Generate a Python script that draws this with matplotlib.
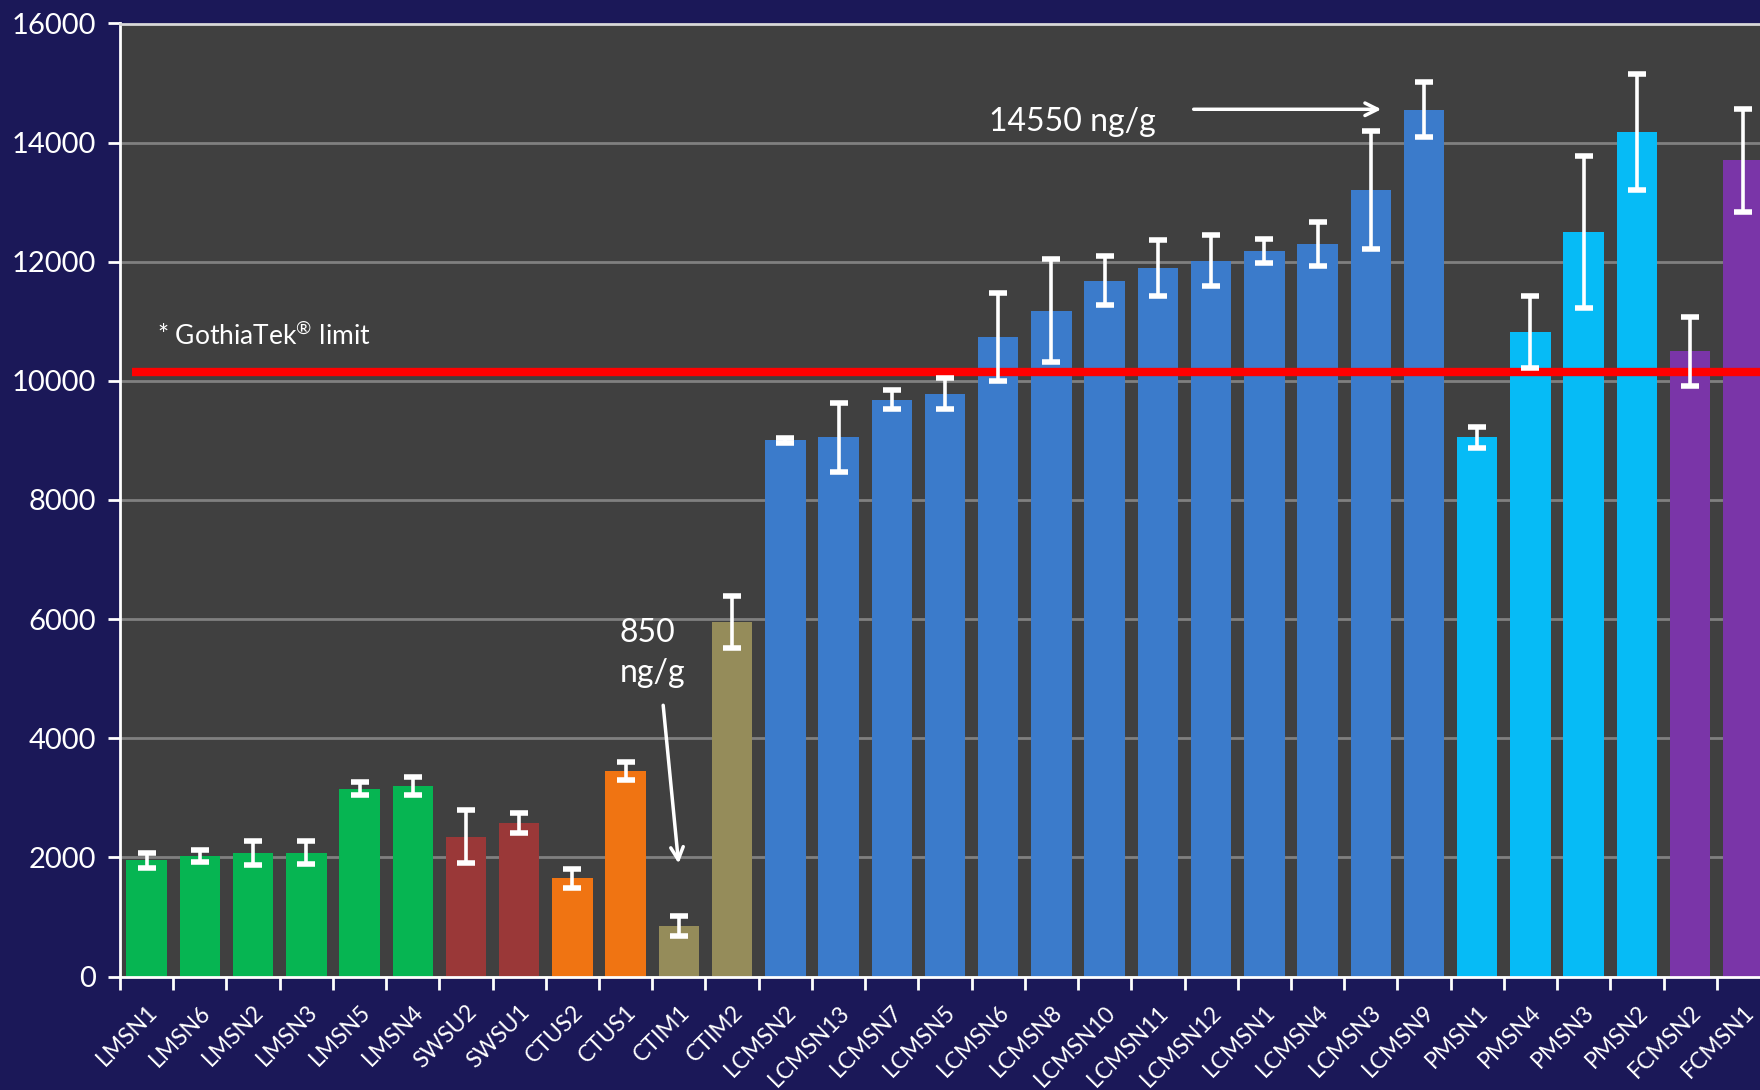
import matplotlib
matplotlib.use("Agg")
import matplotlib.pyplot as plt
import numpy as np

plt.rcParams['font.family'] = ['Lato', 'DejaVu Sans']
plt.rcParams['mathtext.fontset'] = 'custom'
plt.rcParams['mathtext.rm'] = 'Lato'

samples = ["LMSN1", "LMSN6", "LMSN2", "LMSN3", "LMSN5", "LMSN4", "SWSU2", "SWSU1",
           "CTUS2", "CTUS1", "CTIM1", "CTIM2", "LCMSN2", "LCMSN13", "LCMSN7", "LCMSN5",
           "LCMSN6", "LCMSN8", "LCMSN10", "LCMSN11", "LCMSN12", "LCMSN1", "LCMSN4",
           "LCMSN3", "LCMSN9", "PMSN1", "PMSN4", "PMSN3", "PMSN2", "FCMSN2", "FCMSN1"]
values = [1950, 2020, 2080, 2080, 3150, 3200, 2350, 2580,
          1650, 3450, 850, 5950, 9000, 9050, 9680, 9780,
          10730, 11180, 11680, 11900, 12020, 12180, 12300,
          13200, 14550, 9050, 10820, 12500, 14180, 10500, 13700]
errors = [120, 100, 200, 190, 110, 150, 440, 170,
          160, 150, 170, 430, 40, 580, 160, 260,
          740, 870, 410, 470, 430, 200, 370,
          990, 460, 170, 600, 1270, 980, 580, 870]
groups = ["LMSN"] * 6 + ["SWSU"] * 2 + ["CTUS"] * 2 + ["CTIM"] * 2 + ["LCMSN"] * 13 + ["PMSN"] * 4 + ["FCMSN"] * 2

limit = 10150

group_colors = {"LMSN": "#06b552", "SWSU": "#9a3838", "CTUS": "#f07412", "CTIM": "#958c5a",
                "LCMSN": "#3b7bcb", "PMSN": "#06bbf6", "FCMSN": "#7a35a8"}
colors = [group_colors[g] for g in groups]

bg = "#1b1858"
fig = plt.figure(figsize=(17.6, 10.9), dpi=100, facecolor=bg)
ax = fig.add_axes([120 / 1760, 113.5 / 1090, 1650 / 1760, 953 / 1090])
ax.set_facecolor("#404040")

x = np.arange(len(samples))
ax.bar(x, values, width=0.76, color=colors, zorder=2)
ax.errorbar(x, values, yerr=errors, fmt="none", ecolor="white", elinewidth=2.6,
            capsize=6.5, capthick=4, zorder=4)

ax.hlines(limit, -0.27, len(samples), color="#ff0000", linewidth=6, zorder=3)
ax.text(0.2, 10750, r"* GothiaTek$^{\mathrm{®}}$ limit", color="white", fontsize=19, va="center", ha="left")

ax.annotate("", xy=(23.25, 14560), xytext=(19.62, 14560),
            arrowprops=dict(arrowstyle="->,head_length=0.9,head_width=0.45", color="white", lw=2.5))
ax.text(17.4, 14350, "14550 ng/g", color="white", fontsize=23, va="center", ha="center")

ax.annotate("", xy=(10.0, 1850), xytext=(9.7, 4600),
            arrowprops=dict(arrowstyle="->,head_length=0.9,head_width=0.45", color="white", lw=2.5))
ax.text(8.88, 5430, "850\nng/g", color="white", fontsize=23, va="center", ha="left", linespacing=1.45)

ax.set_xlim(-0.5, len(samples) - 0.5)
ax.set_ylim(0, 16000)
ax.set_yticks(np.arange(0, 16001, 2000))
ax.yaxis.grid(True, color="#808080", linewidth=2, zorder=1)
ax.set_axisbelow(True)

ax.set_xticks(x)
ax.set_xticklabels(samples, rotation=45, ha="right", rotation_mode="anchor", fontsize=16.5, color="white")
ax.set_xticks(np.arange(-0.5, len(samples), 1), minor=True)
ax.tick_params(axis="x", which="major", length=0, pad=18)
ax.tick_params(axis="x", which="minor", length=9, width=2, color="white", direction="out")
ax.tick_params(axis="y", length=9, width=2, color="white", labelcolor="white", labelsize=21, pad=8)

for s in ["left", "bottom"]:
    ax.spines[s].set_color("white")
    ax.spines[s].set_linewidth(2)
ax.spines["top"].set_color("#d8d8d8")
ax.spines["top"].set_linewidth(2)
ax.spines["right"].set_visible(False)

fig.savefig("out.png", dpi=100, facecolor=bg)
